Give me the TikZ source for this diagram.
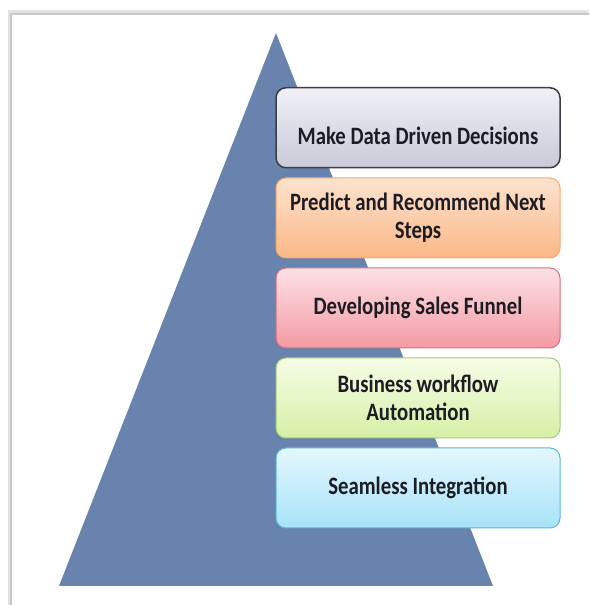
\documentclass[tikz,border=0pt]{standalone}
\usepackage{fontspec}
\newfontfamily\boxfont[FakeStretch=0.83]{Carlito}
\usetikzlibrary{
    positioning,
}
\definecolor{pyramid}{RGB}{103,131,174}
\definecolor{frameline}{RGB}{200,200,200}
\definecolor{boxtext}{RGB}{28,28,36}
\tikzstyle{block} = [rectangle, draw, line width=1pt, rounded corners=10pt,
    minimum width=284pt, minimum height=80pt, align=center, text=boxtext,
    font=\boxfont\bfseries\fontsize{25}{28}\selectfont]
\tikzstyle{decide} = [block, draw={rgb,255:red,60;green,60;blue,68}, line width=1.5pt,
    top color={rgb,255:red,240;green,240;blue,246}, bottom color={rgb,255:red,201;green,201;blue,216}]
\tikzstyle{predict} = [block, draw={rgb,255:red,245;green,169;blue,111},
    top color={rgb,255:red,253;green,227;blue,207}, bottom color={rgb,255:red,250;green,183;blue,134}]
\tikzstyle{funnel} = [block, draw={rgb,255:red,216;green,112;blue,124},
    top color={rgb,255:red,253;green,225;blue,230}, bottom color={rgb,255:red,243;green,154;blue,163}]
\tikzstyle{workflow} = [block, draw={rgb,255:red,169;green,201;blue,124},
    top color={rgb,255:red,246;green,252;blue,230}, bottom color={rgb,255:red,214;green,240;blue,166}]
\tikzstyle{integrate} = [block, draw={rgb,255:red,94;green,182;blue,218},
    top color={rgb,255:red,228;green,247;blue,253}, bottom color={rgb,255:red,166;green,227;blue,248}]
\begin{document}
\begin{tikzpicture}[x=1pt, y=1pt, node distance = 9pt]
        \useasboundingbox [fill=white] (0,0) rectangle (589,605);
        % Page frame
        \draw [frameline!50, line width=3pt] (9,0) -- (9,593) -- (589,593);
        \draw [frameline, line width=1.2pt] (11,0) -- (11,591) -- (589,591);
        % Pyramid
        \coordinate (apex) at (276,572);
        \coordinate (baseL) at (59,19);
        \coordinate (baseR) at (493,19);
        \fill [pyramid] (apex) -- (baseR) -- (baseL) -- cycle;
        % Place nodes
        \node [decide, anchor=north] (decisions) at (418,518) {\mbox{}\\[6pt]Make Data Driven Decisions};
        \node [predict, below=of decisions] (nextSteps) {Predict and Recommend Next\\Steps};
        \node [funnel, below=of nextSteps] (salesFunnel) {Developing Sales Funnel};
        \node [workflow, below=of salesFunnel] (automation) {Business workflow\\Automation};
        \node [integrate, below=of automation] (integration) {Seamless Integration};
    \end{tikzpicture}
\end{document}
